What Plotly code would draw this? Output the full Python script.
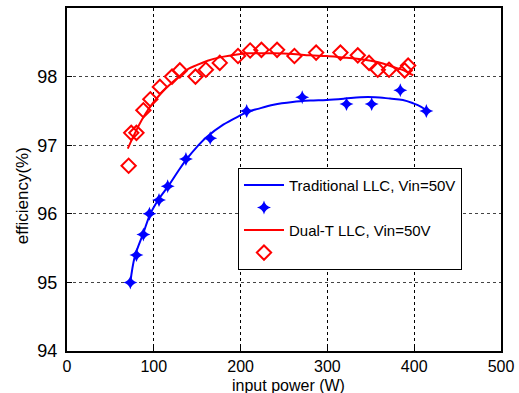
import plotly.graph_objects as go

# Data
trad_x = [73, 80, 88, 95, 106, 116, 137, 165, 207, 271, 322, 351, 384, 414]
trad_y = [95.0, 95.4, 95.7, 96.0, 96.2, 96.4, 96.8, 97.1, 97.5, 97.7, 97.6, 97.6, 97.8, 97.5]

dual_x = [71, 74, 80, 88, 96, 107, 121, 130, 148, 160, 176, 197, 211, 224, 242, 262, 287, 315, 335, 348, 358, 371, 389, 393]
dual_y = [96.7, 97.18, 97.18, 97.51, 97.67, 97.85, 98.0, 98.09, 98.0, 98.1, 98.2, 98.3, 98.38, 98.39, 98.39, 98.3, 98.35, 98.35, 98.31, 98.2, 98.1, 98.1, 98.09, 98.16]

trad_fit_x = [73, 78, 88, 96, 106, 117, 128, 138, 150, 161, 180, 199, 207, 220, 238, 260, 280, 299, 320, 338, 355, 372, 387, 399, 408, 414]
trad_fit_y = [95.0, 95.37, 95.72, 96.0, 96.22, 96.41, 96.62, 96.8, 96.98, 97.12, 97.3, 97.43, 97.48, 97.53, 97.59, 97.63, 97.65, 97.66, 97.68, 97.7, 97.7, 97.68, 97.66, 97.61, 97.56, 97.51]

dual_fit_x = [70, 80, 90, 100, 110, 120, 130, 138, 150, 162, 176, 190, 207, 220, 238, 260, 280, 299, 317, 334, 350, 364, 376, 388, 394, 399]
dual_fit_y = [96.95, 97.22, 97.45, 97.63, 97.78, 97.9, 98.01, 98.1, 98.17, 98.23, 98.28, 98.31, 98.34, 98.34, 98.34, 98.33, 98.31, 98.3, 98.28, 98.26, 98.23, 98.19, 98.14, 98.09, 98.05, 98.02]

x_ticks = [0, 100, 200, 300, 400, 500]
y_ticks = [94, 95, 96, 97, 98]
x_title = "input power (W)"
y_title = "efficiency(%)"

BLUE = "#0000ff"
RED = "#ff0000"
FONT = "Liberation Sans, Arial, sans-serif"

fig = go.Figure()
fig.add_trace(go.Scatter(x=trad_fit_x, y=trad_fit_y, mode="lines", line=dict(color=BLUE, width=2, shape="spline"),
                         name="Traditional LLC, Vin=50V"))
fig.add_trace(go.Scatter(x=trad_x, y=trad_y, mode="markers",
                         marker=dict(symbol="star-diamond", size=10, color=BLUE, line=dict(width=0)),
                         name=" "))
fig.add_trace(go.Scatter(x=dual_fit_x, y=dual_fit_y, mode="lines", line=dict(color=RED, width=2, shape="spline"),
                         name="Dual-T LLC, Vin=50V"))
fig.add_trace(go.Scatter(x=dual_x, y=dual_y, mode="markers",
                         marker=dict(symbol="diamond-open", size=11, color=RED, line=dict(width=2, color=RED)),
                         name=" "))

axis_common = dict(
    showline=True, linecolor="black", linewidth=2, mirror=True,
    showgrid=True, gridwidth=1, griddash="3px,3px",
    ticks="inside", ticklen=5, tickcolor="black", tickwidth=1,
    zeroline=False, automargin=False,
)

fig.update_xaxes(range=[0, 500], tickvals=x_ticks, ticktext=[str(v) for v in x_ticks],
                 gridcolor="black", tickfont=dict(family=FONT, size=16, color="black"), **axis_common)
fig.update_yaxes(range=[94, 99], tickvals=y_ticks, ticktext=[str(v) for v in y_ticks],
                 gridcolor="#444444", ticklabelstandoff=4,
                 tickfont=dict(family=FONT, size=18, color="black"), **axis_common)

fig.add_annotation(text=x_title, xref="paper", yref="paper", x=0.51, y=-0.128,
                   xanchor="center", yanchor="bottom", showarrow=False, borderpad=0,
                   font=dict(family=FONT, size=16, color="black"))
fig.add_annotation(text=y_title, xref="paper", yref="paper", x=-0.101, y=0.452,
                   xanchor="center", yanchor="middle", showarrow=False, textangle=-90,
                   font=dict(family=FONT, size=17, color="black"))

fig.update_layout(
    width=519, height=393,
    margin=dict(l=67, r=18, t=8, b=42),
    paper_bgcolor="white", plot_bgcolor="white",
    font=dict(family=FONT, size=15, color="black"),
    legend=dict(x=0.394, y=0.534, xanchor="left", yanchor="top",
                bgcolor="white", bordercolor="black", borderwidth=1,
                font=dict(family=FONT, size=15, color="black"),
                tracegroupgap=0, itemwidth=40),
)

fig.write_html("out.html")
